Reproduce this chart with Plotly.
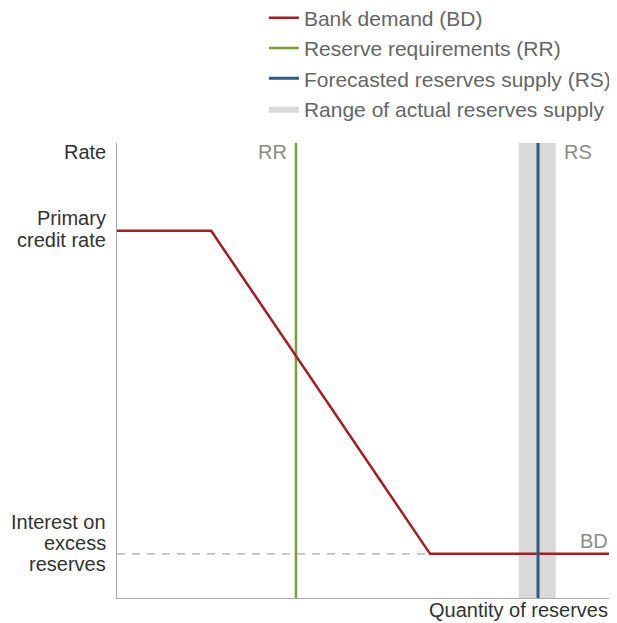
import plotly.graph_objects as go

# Data (conceptual units: quantity 0-100, rate 0-100)
bd_x = [0, 19.1, 63.5, 100]
bd_y = [80.7, 80.7, 9.7, 9.7]
rr_x = 36.3
rs_x = 85.4
range_lo, range_hi = 81.5, 89.0
ioer = 9.7
primary = 80.7
y_top = 100

RED = "#a31f24"
GREEN = "#77a03a"
BLUE = "#2b5c80"
BAND = "#d9d9da"
FONT = "Arial, Liberation Sans, sans-serif"

fig = go.Figure()

fig.add_trace(go.Scatter(
    x=[range_lo, range_hi, range_hi, range_lo, range_lo],
    y=[0, 0, y_top, y_top, 0], fill="toself", fillcolor=BAND,
    line=dict(width=0, color=BAND), mode="lines",
    name="Range of actual reserves supply", legendrank=4, hoverinfo="skip"))
fig.add_trace(go.Scatter(
    x=[0, bd_x[2]], y=[ioer, ioer], mode="lines",
    line=dict(color="#aaaaaa", width=1.3, dash="8px,7px"), showlegend=False))
fig.add_trace(go.Scatter(
    x=[rr_x, rr_x], y=[0, y_top], mode="lines",
    line=dict(color=GREEN, width=2.5), name="Reserve requirements (RR)", legendrank=2))
fig.add_trace(go.Scatter(
    x=bd_x, y=bd_y, mode="lines",
    line=dict(color=RED, width=2.5), name="Bank demand (BD)", legendrank=1))
fig.add_trace(go.Scatter(
    x=[rs_x, rs_x], y=[0, y_top], mode="lines",
    line=dict(color=BLUE, width=3), name="Forecasted reserves supply (RS)", legendrank=3))

TXT = "#333333"
LBL = "#8c8c8c"
ann = [
    dict(x=0, y=y_top, text="Rate", xanchor="right", xshift=-9, yshift=-9, color=TXT),
    dict(x=0, y=primary, text="Primary", xanchor="right", xshift=-9, yshift=13, color=TXT),
    dict(x=0, y=primary, text="credit rate", xanchor="right", xshift=-9, yshift=-9, color=TXT),
    dict(x=0, y=ioer, text="Interest on", xanchor="right", xshift=-9, yshift=32, color=TXT),
    dict(x=0, y=ioer, text="excess", xanchor="right", xshift=-9, yshift=11, color=TXT),
    dict(x=0, y=ioer, text="reserves", xanchor="right", xshift=-9, yshift=-10, color=TXT),
    dict(x=rr_x, y=y_top, text="RR", xanchor="right", xshift=-7, yshift=-9, color=LBL),
    dict(x=range_hi, y=y_top, text="RS", xanchor="left", xshift=6, yshift=-9, color=LBL),
    dict(x=100, y=ioer, text="BD", xanchor="right", xshift=0, yshift=13, color=LBL),
    dict(x=100, y=0, text="Quantity of reserves", xanchor="right", xshift=0, yshift=-12, color=TXT),
]
annotations = []
for a in ann:
    col = a.pop("color")
    a.update(xref="x", yref="y", showarrow=False, yanchor="middle",
             font=dict(size=20, family=FONT, color=col))
    annotations.append(a)

# page has an 8px body margin; compensate so the plot lands where the reference has it
fig.update_layout(
    width=609, height=615,
    margin=dict(l=109, r=7, t=135, b=25, autoexpand=False),
    paper_bgcolor="white", plot_bgcolor="white",
    font=dict(family=FONT, size=20, color="#666666"),
    xaxis=dict(range=[0, 100], showgrid=False, zeroline=False, showticklabels=False,
               ticks="", showline=True, linecolor="#aaaaaa", linewidth=1, fixedrange=True),
    yaxis=dict(range=[0, 100], showgrid=False, zeroline=False, showticklabels=False,
               ticks="", showline=True, linecolor="#aaaaaa", linewidth=1, fixedrange=True),
    legend=dict(x=0.298, y=1.3196, xanchor="left", yanchor="top",
                bgcolor="rgba(0,0,0,0)", font=dict(size=21, color="#666666", family=FONT),
                tracegroupgap=0),
    annotations=annotations,
    showlegend=True,
)

fig.write_html("out.html")
